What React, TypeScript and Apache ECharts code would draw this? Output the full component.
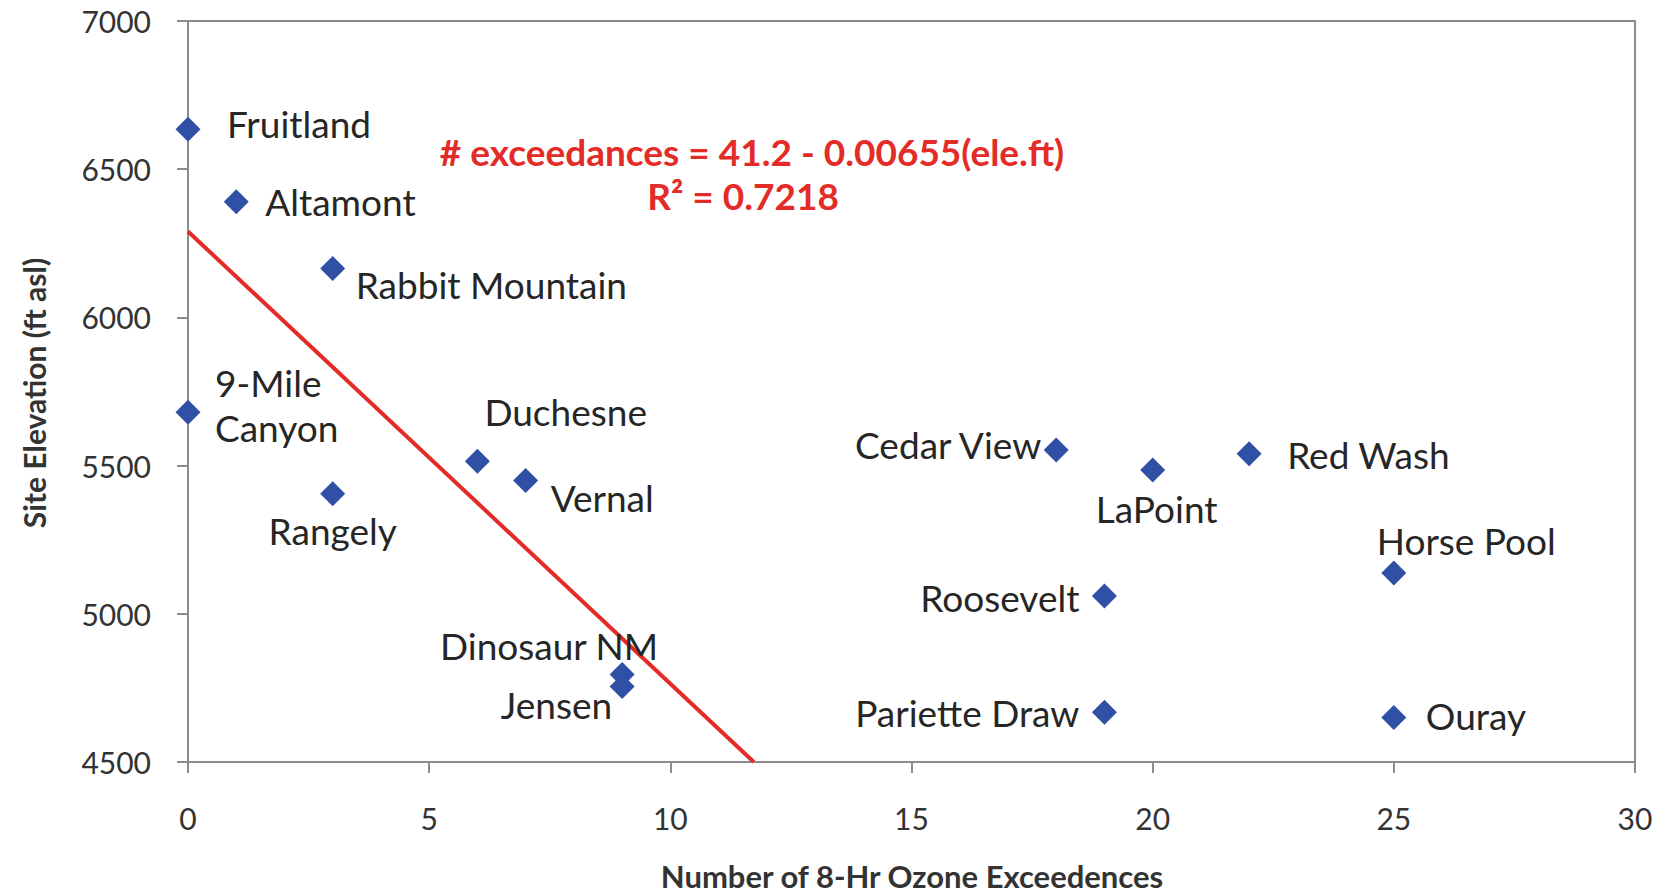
import React, { useEffect, useRef } from "react";
import * as echarts from "echarts";

const siteNames = [
  "Fruitland", "Altamont", "Rabbit Mountain", "9-Mile\nCanyon", "Rangely", "Duchesne",
  "Vernal", "Dinosaur NM", "Jensen", "Cedar View", "LaPoint", "Red Wash",
  "Horse Pool", "Roosevelt", "Pariette Draw", "Ouray",
];
const exceedances = [0, 1, 3, 0, 3, 6, 7, 9, 9, 18, 20, 22, 25, 19, 19, 25];
const elevations = [6635, 6390, 6165, 5680, 5405, 5515, 5450, 4795, 4755, 5553, 5485, 5540, 5138, 5060, 4668, 4650];

const trendX = [0, 11.73];
const trendY = [6290, 4500];

const xTicks = { min: 0, max: 30, interval: 5 };
const yTicks = { min: 4500, max: 7000, interval: 500 };

const xTitle = "Number of 8-Hr Ozone Exceedences";
const yTitle = "Site Elevation (ft asl)";
const equationLine1 = "# exceedances = 41.2 - 0.00655(ele.ft)";
const equationLine2 = "R² = 0.7218";

// label placement (style only): offset from marker centre and alignment
const labelLayout: Record<string, { dx: number; dy: number; align: string }> = {
  "Fruitland": { dx: 39, dy: -6, align: "left" },
  "Altamont": { dx: 29, dy: 0, align: "left" },
  "Rabbit Mountain": { dx: 23, dy: 16, align: "left" },
  "9-Mile\nCanyon": { dx: 27, dy: -7, align: "left" },
  "Rangely": { dx: 0, dy: 37, align: "center" },
  "Duchesne": { dx: 7, dy: -50, align: "left" },
  "Vernal": { dx: 25, dy: 17, align: "left" },
  "Dinosaur NM": { dx: -73, dy: -29, align: "center" },
  "Jensen": { dx: -10, dy: 18, align: "right" },
  "Cedar View": { dx: -15, dy: -5, align: "right" },
  "LaPoint": { dx: 4, dy: 38, align: "center" },
  "Red Wash": { dx: 38, dy: 1, align: "left" },
  "Horse Pool": { dx: -17, dy: -32, align: "left" },
  "Roosevelt": { dx: -25, dy: 1, align: "right" },
  "Pariette Draw": { dx: -25, dy: 0, align: "right" },
  "Ouray": { dx: 32, dy: -2, align: "left" },
};

const FONT = "Lato, 'Noto Sans', sans-serif";

export default function App() {
  const ref = useRef<HTMLDivElement>(null);
  useEffect(() => {
    if (!ref.current) return;
    const chart = echarts.init(ref.current, null, { renderer: "svg" });
    const points = siteNames.map((n, i) => {
      const l = labelLayout[n];
      return {
        name: n,
        value: [exceedances[i], elevations[i]],
        label: {
          show: true,
          formatter: n,
          position: "inside",
          align: l.align,
          verticalAlign: "middle",
          offset: [l.dx, l.dy],
          fontSize: 37,
          lineHeight: 45,
          fontFamily: FONT,
          color: "#262626",
        },
      };
    });
    chart.setOption({
      animation: false,
      backgroundColor: "#ffffff",
      grid: { left: 188, right: 30, top: 21, bottom: 134, show: true, borderColor: "#8c8c8c", borderWidth: 2, backgroundColor: "transparent" },
      xAxis: {
        type: "value",
        min: xTicks.min, max: xTicks.max, interval: xTicks.interval,
        axisLine: { show: true, lineStyle: { color: "#8c8c8c", width: 2 } },
        axisTick: { show: true, inside: false, length: 11, lineStyle: { color: "#8c8c8c", width: 2 } },
        splitLine: { show: false },
        axisLabel: { fontSize: 30, fontFamily: FONT, color: "#333333", margin: 41 },
      },
      yAxis: {
        type: "value",
        min: yTicks.min, max: yTicks.max, interval: yTicks.interval,
        axisLine: { show: true, lineStyle: { color: "#8c8c8c", width: 2 } },
        axisTick: { show: true, inside: false, length: 11, lineStyle: { color: "#8c8c8c", width: 2 } },
        splitLine: { show: false },
        axisLabel: { fontSize: 30, fontFamily: FONT, color: "#333333", margin: 37, formatter: (v: number) => String(v) },
      },
      graphic: [
        {
          type: "text", x: 752, y: 151,
          style: { text: equationLine1, fill: "#e32b27", fontSize: 37, fontWeight: "bold", fontFamily: FONT, align: "center", verticalAlign: "middle" },
        },
        {
          type: "text", x: 743, y: 195,
          style: { text: equationLine2, fill: "#e32b27", fontSize: 37, fontWeight: "bold", fontFamily: FONT, align: "center", verticalAlign: "middle" },
        },
        {
          type: "text", x: 912, y: 876,
          style: { text: xTitle, fill: "#333333", fontSize: 31, fontWeight: "bold", fontFamily: FONT, align: "center", verticalAlign: "middle" },
        },
        {
          type: "text", x: 34, y: 393, rotation: Math.PI / 2,
          style: { text: yTitle, fill: "#333333", fontSize: 30, fontWeight: "bold", fontFamily: FONT, align: "center", verticalAlign: "middle" },
        },
      ],
      series: [
        {
          type: "line",
          data: trendX.map((x, i) => [x, trendY[i]]),
          symbol: "none",
          lineStyle: { color: "#e32b27", width: 4 },
          z: 2,
        },
        {
          type: "scatter",
          data: points,
          symbol: "diamond",
          symbolSize: 25,
          itemStyle: { color: "#3050a6", opacity: 1 },
          z: 3,
        },
      ],
    });
    return () => chart.dispose();
  }, []);
  return <div ref={ref} style={{ width: 1665, height: 896, position: "absolute", left: 0, top: 0 }} />;
}
